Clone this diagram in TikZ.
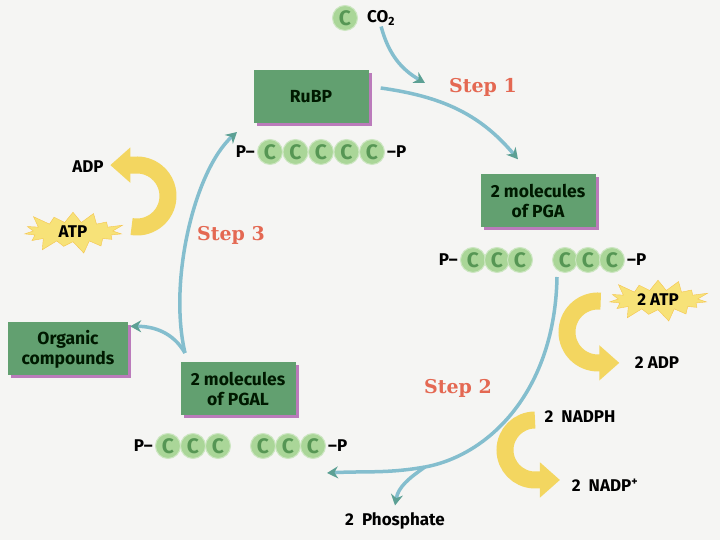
\documentclass[tikz,border=0pt]{standalone}
\usepackage{fontspec}
\setsansfont{Fira Sans}
\newfontfamily\stepfont{DejaVu Serif}
\usepackage{tikz}
\usetikzlibrary{shapes,shadows,arrows,arrows.meta,positioning}
\definecolor{paper}{RGB}{245,245,243}
\definecolor{boxgreen}{RGB}{98,160,112}
\definecolor{carbongreen}{RGB}{170,214,152}
\definecolor{carbondark}{RGB}{86,150,84}
\definecolor{cycleblue}{RGB}{132,190,206}
\definecolor{cycleteal}{RGB}{92,160,148}
\definecolor{energy}{RGB}{243,214,96}
\definecolor{burstfill}{RGB}{247,226,120}
\definecolor{stepred}{RGB}{228,104,82}
\tikzstyle{molecule} = [rectangle, minimum width=115pt, minimum height=53pt, align=center,
text=black!90!green, fill=boxgreen, font=\sffamily\bfseries\fontsize{17.5}{20}\selectfont,
drop shadow={shadow xshift=3pt, shadow yshift=-3pt, fill=violet!60, opacity=0.85}]
\tikzstyle{carbon} = [circle, minimum size=25pt, inner sep=0pt, fill=carbongreen,
draw=carbongreen!60, line width=1pt, text=carbondark, font=\sffamily\bfseries\fontsize{21}{21}\selectfont]
\tikzstyle{phos} = [inner sep=1pt, font=\sffamily\bfseries\fontsize{17}{17}\selectfont]
\tikzstyle{tag} = [inner sep=1pt, font=\sffamily\bfseries\fontsize{17}{17}\selectfont]
\tikzstyle{steplabel} = [inner sep=1pt, text=stepred, font=\stepfont\bfseries\fontsize{19}{19}\selectfont]
\tikzstyle{burst} = [starburst, starburst points=15, starburst point height=14pt, fill=burstfill,
draw=energy!80!orange, minimum width=108pt, minimum height=40pt, inner sep=1pt,
font=\sffamily\bfseries\fontsize{17}{17}\selectfont]
\tikzstyle{cycleArrow} = [line width=3.5pt, draw=cycleblue, -{Stealth[length=11pt,width=12pt,color=cycleteal]}]
\tikzstyle{cycleLine} = [line width=3.5pt, draw=cycleblue]
\tikzstyle{energyArrow} = [line width=17pt, draw=energy, -{Triangle[length=20pt,width=34pt]}]

\begin{document}
\begin{tikzpicture}[x=1pt,y=1pt]
		\useasboundingbox (0,0) rectangle (720,540);
		\fill[paper] (0,0) rectangle (720,540);
		%blocks
		\node[molecule](rubp) at (311,443){RuBP};
		\node[molecule](pga) at (538,339){2 molecules\\of PGA};
		\node[molecule](pgal) at (238,151){2 molecules\\of PGAL};
		\node[molecule, minimum width=120pt](organic) at (68,191){Organic\\compounds};

		%carbon chains
		\node[carbon](co2c) at (345,522){C};
		\node[tag, right=8pt of co2c](co2){CO\textsubscript{2}};
		\foreach \i/\x in {1/270,2/295.5,3/321,4/346.5,5/372}
			\node[carbon](rubpc\i) at (\x,388){C};
		\node[phos, left=1pt of rubpc1](rubpl){P--};
		\node[phos, right=1pt of rubpc5](rubpr){--P};
		\foreach \i/\x in {1/473,2/497,3/520,4/565,5/588,6/612}
			\node[carbon](pgac\i) at (\x,280){C};
		\node[phos, left=1pt of pgac1](pgal1){P--};
		\node[phos, right=1pt of pgac6](pgar){--P};
		\foreach \i/\x in {1/168,2/193,3/218,4/263,5/288,6/313}
			\node[carbon](pgalc\i) at (\x,94){C};
		\node[phos, left=1pt of pgalc1](pgall){P--};
		\node[phos, right=1pt of pgalc6](pgalr){--P};

		%labels
		\node[steplabel](step1) at (483,453){Step 1};
		\node[steplabel](step2) at (458,152){Step 2};
		\node[steplabel](step3) at (231,305){Step 3};
		\node[burst](atp) at (73,308){ATP};
		\node[tag](adp) at (88,373){ADP};
		\node[burst](twoatp) at (658,240){2 ATP};
		\node[tag](twoadp) at (657,177){2 ADP};
		\node[tag](nadph) at (580,123){2~~NADPH};
		\node[tag](nadp) at (605,55){2~~NADP\textsuperscript{+}};
		\node[tag](phosphate) at (395,19){2~~Phosphate};

		%energy
		\draw[energyArrow] (137,344) ++(-100:31) arc[start angle=-100, end angle=95, radius=31] -- ++(-24,0);
		\draw[energyArrow] (598,208) ++(85:31) arc[start angle=85, end angle=265, radius=31] -- ++(24,0);
		\draw[energyArrow] (535,90) ++(90:30) arc[start angle=90, end angle=268, radius=30] -- ++(26,0);

		%arrows
		\coordinate (fixin) at (425,457);
		\coordinate (pgaout) at (557,263);
		\coordinate (phosfork) at (425,73);
		\coordinate (pgalin) at (327,67);
		\coordinate (pgalout) at (185,187);
		\coordinate (rubpin) at (237,408);
		\draw[cycleArrow](co2.south) to[out=-75,in=150] (fixin);
		\draw[cycleArrow]([xshift=12pt,yshift=9pt]rubp.east) to[out=-8,in=130] ([xshift=-20pt,yshift=15pt]pga.north);
		\draw[cycleLine](pgaout) .. controls (555,150) and (490,85) .. (phosfork);
		\draw[cycleArrow](phosfork) to[out=190,in=3] (pgalin);
		\draw[cycleArrow](phosfork) to[out=215,in=80] ([yshift=6pt]phosphate.north);
		\draw[cycleArrow](pgalout) .. controls (168,260) and (195,370) .. (rubpin);
		\draw[cycleArrow](pgalout) to[out=120,in=0] ([xshift=2pt,yshift=-4pt]organic.north east);
	\end{tikzpicture}
\end{document}
